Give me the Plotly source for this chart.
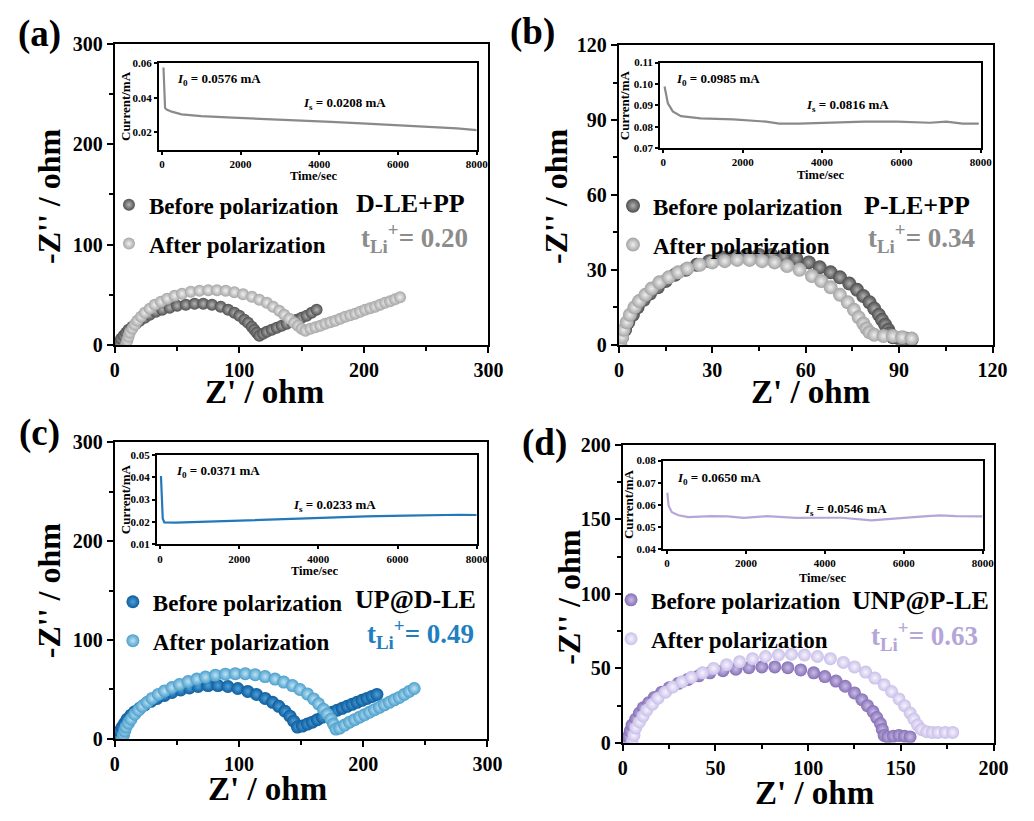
import plotly.graph_objects as go

W, H = 1034, 821
FONT = "Liberation Serif"

# ---------------- Nyquist data (Z' , -Z'') ----------------
# (a) D-LE+PP
a_before_x = [3, 4, 5, 7, 9, 11, 14, 17, 20, 24, 28, 33, 38, 44, 50, 57, 64, 71, 78, 85, 91, 96, 100, 104, 107, 110, 112, 114, 116,
              119, 122, 126, 130, 134, 138, 142, 146, 150, 154, 158, 162]
a_before_y = [0, 3, 6, 9, 12, 15, 18, 21, 24, 27, 30, 33, 35, 37, 39, 40, 41, 41, 40, 38, 35, 32, 29, 25, 22, 18, 15, 12, 9,
              11, 13, 15, 17, 19, 21, 23, 25, 27, 29, 32, 35]
a_after_x = [9, 10, 11, 12, 14, 16, 18, 21, 24, 28, 32, 37, 42, 48, 54, 61, 68, 75, 82, 89, 96, 103, 110, 116, 122, 127, 132, 136,
             140, 144, 147, 150, 153, 157, 161, 165, 169, 173, 177, 181, 185, 189, 193, 197, 201, 205, 209, 213, 217, 221, 225, 229]
a_after_y = [0, 4, 8, 12, 16, 20, 24, 28, 32, 36, 40, 43, 46, 49, 51, 53, 54, 54.5, 54.5, 54, 52.5, 50.5, 48, 45, 42, 38, 34, 30,
             26, 22, 19, 16, 14, 16, 17.5, 19, 21, 22.5, 24, 26, 28, 29.5, 31, 33, 35, 36.5, 38, 40, 42, 43.5, 45.5, 47.5]

# (b) P-LE+PP
b_before_x = [0.3, 1, 2, 3, 4.5, 6, 8, 10, 12.5, 15, 18, 21.5, 25, 29, 33, 37, 41, 45, 49, 53, 57, 61, 64.5, 68, 71, 74, 76.5,
              78.5, 80.5, 82, 83.5, 84.5, 85.5, 86.5, 87, 88, 90, 92, 94]
b_before_y = [0, 3, 6, 9, 12, 15, 18, 20.5, 23, 25.5, 28, 30, 32, 33.5, 35, 35.5, 36, 36, 36, 35.5, 34.5, 33, 31, 29, 27, 24.5, 22,
              19.5, 17, 14.5, 12, 10, 8, 6, 4.5, 3, 2.5, 2.5, 2]
b_after_x = [0.5, 1, 1.5, 2.5, 3.5, 5, 6.5, 8.5, 10.5, 13, 16, 19, 22, 26, 30, 34, 38, 42, 46, 50, 54, 58, 62, 65, 68, 71, 73.5,
             75.5, 77, 78.5, 79.5, 80.5, 82, 85, 88, 91, 94]
b_after_y = [0, 3, 6, 9, 12, 15, 17.5, 20, 22.5, 25, 27, 29, 30.5, 32, 33, 33.5, 34, 34, 33.5, 33, 31.5, 30, 27.5, 25.5, 23, 20, 17,
             14, 11, 8.5, 6.5, 5, 4, 3.5, 3.5, 3, 2.5]

# (c) UP@D-LE
c_before_x = [2, 3, 4, 6, 8, 10, 13, 16, 20, 24, 29, 34, 40, 46, 53, 60, 67, 75, 83, 91, 99, 107, 114, 121, 127, 132, 137, 141,
              144, 147, 151, 155, 159, 163, 167, 171, 175, 179, 183, 187, 191, 195, 199, 203, 207, 211]
c_before_y = [0, 4, 8, 12, 16, 20, 24, 27.5, 31, 34.5, 38, 41, 44, 47, 49.5, 51.5, 53, 54, 54, 53, 51, 48, 45, 41, 37, 33, 28, 23,
              18, 12, 13, 15, 17, 19.5, 22, 24.5, 27, 29, 31, 33, 35, 37, 39, 41, 43, 45]
c_after_x = [6, 7, 8, 9, 11, 13, 16, 19, 22, 26, 30, 35, 40, 46, 52, 59, 66, 73, 81, 89, 97, 105, 113, 121, 129, 136, 143, 149,
             155, 160, 164, 168, 171, 174, 176, 178, 181, 185, 189, 193, 197, 201, 205, 209, 213, 217, 221, 225, 229, 233, 237, 241]
c_after_y = [0, 4, 8, 12, 16, 20, 25, 29, 33, 37, 41, 45, 48.5, 52, 55, 58, 60.5, 62.5, 64.5, 65.5, 66, 66, 65, 63, 60.5, 57.5, 54,
             50, 45.5, 40.5, 35.5, 30, 25, 20, 15, 10, 11, 14, 17, 19.5, 22, 24.5, 27, 29.5, 32, 34.5, 37, 39.5, 42, 45, 48, 51]

# (d) UNP@P-LE
d_before_x = [2, 3, 4, 5, 7, 9, 11, 14, 17, 21, 25, 30, 35, 41, 47, 54, 61, 68, 75, 82, 89, 96, 103, 109, 115, 120, 125, 129, 132,
              135, 137, 139, 140, 141, 143, 146, 149, 152, 155]
d_before_y = [0, 4, 8, 12, 16, 20, 23.5, 27, 30.5, 34, 37, 40, 42.5, 45, 47, 48.5, 49.5, 50.5, 51, 51, 50.5, 49, 47, 44.5, 41.5, 38,
              33.5, 29, 25, 21, 17, 13, 9, 5, 4, 4.5, 5, 4.5, 4]
d_after_x = [5, 6, 7, 9, 11, 13, 16, 19, 23, 27, 32, 37, 43, 49, 56, 63, 70, 77, 84, 91, 98, 105, 112, 119, 125, 131, 136, 141, 145,
             149, 152, 155, 157, 159, 161, 164, 167, 170, 174, 178]
d_after_y = [0, 5, 10, 14, 18, 22, 26, 30, 34, 37.5, 41, 44, 47, 50, 52.5, 54.5, 56.5, 58, 59, 59.5, 59, 58, 56.5, 54, 51, 47.5, 43.5,
             39, 34.5, 29.5, 25, 20, 16, 12, 9, 7.5, 7, 7, 7, 7]

# ---------------- Chronoamperometry insets (time / s, current / mA) ----------------
ia_t = [40, 50, 60, 80, 120, 250, 500, 1000, 1800, 2600, 3500, 4300, 5200, 6000, 6800, 7500, 8000]
ia_i = [0.0576, 0.050, 0.040, 0.0340, 0.0330, 0.0318, 0.0302, 0.0292, 0.0283, 0.0276, 0.0267, 0.0258, 0.0248, 0.0239, 0.0229,
        0.0220, 0.0210]
ib_t = [33, 116, 240, 446, 941, 1766, 2593, 2923, 3420, 4243, 5070, 5895, 6720, 7130, 7540, 7950]
ib_i = [0.0988, 0.0910, 0.0872, 0.0850, 0.0839, 0.0835, 0.0824, 0.0815, 0.0815, 0.0819, 0.0824, 0.0824, 0.0819, 0.0824, 0.0815,
        0.0815]
ic_t = [25, 40, 70, 110, 400, 1000, 1800, 2600, 3500, 4300, 5200, 6200, 7000, 7600, 8000]
ic_i = [0.0405, 0.030, 0.0215, 0.0198, 0.0197, 0.0200, 0.0205, 0.0212, 0.0217, 0.0221, 0.0225, 0.0228, 0.0232, 0.0232, 0.0231]
id_t = [10, 41, 124, 290, 538, 870, 1118, 1532, 1946, 2526, 3271, 4017, 4431, 5176, 5921, 6501, 6915, 7329, 7992]
id_i = [0.0655, 0.0596, 0.0567, 0.0553, 0.0545, 0.0548, 0.0549, 0.0548, 0.0541, 0.0549, 0.0541, 0.0542, 0.0542, 0.0530, 0.0542,
        0.0548, 0.0553, 0.0549, 0.0548]

panel_labels = ["(a)", "(b)", "(c)", "(d)"]
sample_names = ["D-LE+PP", "P-LE+PP", "UP@D-LE", "UNP@P-LE"]
t_values = ["0.20", "0.34", "0.49", "0.63"]
i0_values = ["0.0576", "0.0985", "0.0371", "0.0650"]
is_values = ["0.0208", "0.0816", "0.0233", "0.0546"]
legend_names = ["Before polarization", "After polarization"]


def px(x):
    return x / W


def py(y):
    return 1 - y / H


fig = go.Figure()

panels = [
    dict(bx=a_before_x, by=a_before_y, ax=a_after_x, ay=a_after_y, it=ia_t, ii=ia_i,
         c_b=("#505050", "#b4b4b4"), c_a=("#a6a6a6", "#f0f0f0"), tcol="#8c8c8c", lcol="#8a8a8a", ms=12,
         xd=(112, 493), yd=(34, 343), xr=(0, 300), yr=(0, 300), dt=100, mdt=50,
         ixd=(157, 481), iyd=(53, 143), ixr=(-75, 8000), iyr=(0.0093, 0.0605), iyt=[0.02, 0.04, 0.06],
         leg=(106, 177), name=(414, 198), tpos=(418, 233), i0=(173, 70), is_=(302, 95),
         xt=(265, 392), yt=(45, 191), cur=(123, 98), tim=(315, 170), lab=(35, 24)),
    dict(bx=b_before_x, by=b_before_y, ax=b_after_x, ay=b_after_y, it=ib_t, ii=ib_i,
         c_b=("#4e4e4e", "#b0b0b0"), c_a=("#a3a3a3", "#eeeeee"), tcol="#8c8c8c", lcol="#8a8a8a", ms=14,
         xd=(626, 1007), yd=(35, 343), xr=(0, 120), yr=(0, 120), dt=30, mdt=15,
         ixd=(668, 995), iyd=(53, 141), ixr=(-80, 8000), iyr=(0.07, 0.11), iyt=[0.07, 0.08, 0.09, 0.10, 0.11],
         leg=(620, 178), name=(930, 200), tpos=(935, 233), i0=(682, 70), is_=(815, 97),
         xt=(821, 392), yt=(562, 191), cur=(632, 97), tim=(832, 169), lab=(538, 22)),
    dict(bx=c_before_x, by=c_before_y, ax=c_after_x, ay=c_after_y, it=ic_t, ii=ic_i,
         c_b=("#0d5c9c", "#4fa0da"), c_a=("#4a9fcd", "#bfe2f3"), tcol="#1f7fc0", lcol="#2278b8", ms=13,
         xd=(112, 492), yd=(443, 748), xr=(0, 300), yr=(0, 300), dt=100, mdt=50,
         ixd=(155, 481), iyd=(456, 548), ixr=(-75, 8000), iyr=(0.01, 0.05), iyt=[0.01, 0.02, 0.03, 0.04, 0.05],
         leg=(110, 585), name=(419, 605), tpos=(424, 640), i0=(172, 473), is_=(292, 508),
         xt=(268, 799), yt=(45, 596), cur=(123, 502), tim=(316, 575), lab=(35, 434)),
    dict(bx=d_before_x, by=d_before_y, ax=d_after_x, ay=d_after_y, it=id_t, ii=id_i,
         c_b=("#8670b6", "#c9bce6"), c_a=("#c9bfe9", "#f6f3fd"), tcol="#b4a6d9", lcol="#b4a6d9", ms=13,
         xd=(630, 1008), yd=(446, 752), xr=(0, 200), yr=(0, 200), dt=50, mdt=25,
         ixd=(671, 997), iyd=(462, 553), ixr=(-100, 8000), iyr=(0.04, 0.08), iyt=[0.04, 0.05, 0.06, 0.07, 0.08],
         leg=(618, 583), name=(934, 606), tpos=(938, 642), i0=(683, 480), is_=(813, 512),
         xt=(825, 804), yt=(575, 602), cur=(636, 507), tim=(834, 583), lab=(550, 444)),
]

layout = dict(width=W, height=H, margin=dict(l=0, r=0, t=0, b=0), paper_bgcolor="white", plot_bgcolor="white",
              showlegend=True)
annotations = []


def bold_font(size, color="black"):
    return dict(family=FONT, size=size, color=color, weight="bold")


for k, p in enumerate(panels):
    mi = k + 1
    ii = k + 5
    mx = "x" if mi == 1 else f"x{mi}"
    my = "y" if mi == 1 else f"y{mi}"
    ix, iy = f"x{ii}", f"y{ii}"
    legkey = "legend" if mi == 1 else f"legend{mi}"

    for series, (xs, ys, cols) in enumerate([(p["bx"], p["by"], p["c_b"]), (p["ax"], p["ay"], p["c_a"])]):
        fig.add_trace(go.Scatter(
            x=xs, y=ys, mode="markers", xaxis=mx, yaxis=my, name=legend_names[series],
            legend=legkey, legendgroup=f"g{k}{series}",
            marker=dict(size=p["ms"], color=cols[0], gradient=dict(type="radial", color=cols[1]),
                        line=dict(width=0))))

    fig.add_trace(go.Scatter(x=p["it"], y=p["ii"], mode="lines", xaxis=ix, yaxis=iy, showlegend=False,
                             line=dict(color=p["lcol"], width=2.2)))

    main_common = dict(showline=True, linewidth=2.2, linecolor="black", mirror=True, ticks="outside", ticklen=6,
                       tickwidth=2, tickcolor="black", showgrid=False, zeroline=False,
                       tickfont=bold_font(20))
    layout["xaxis" if mi == 1 else f"xaxis{mi}"] = dict(
        domain=[px(p["xd"][0]), px(p["xd"][1])], range=list(p["xr"]), dtick=p["dt"], tick0=0, anchor=my,
        minor=dict(ticks="outside", ticklen=4, tickwidth=2, tickcolor="black", dtick=p["mdt"]), **main_common)
    layout["yaxis" if mi == 1 else f"yaxis{mi}"] = dict(
        domain=[py(p["yd"][1]), py(p["yd"][0])], range=list(p["yr"]), dtick=p["dt"], tick0=0, anchor=mx,
        minor=dict(ticks="outside", ticklen=4, tickwidth=2, tickcolor="black", dtick=p["mdt"]), **main_common)

    inset_common = dict(showline=True, linewidth=2, linecolor="black", mirror=True, ticks="outside", ticklen=3,
                        tickwidth=1.5, tickcolor="black", showgrid=False, zeroline=False,
                        tickfont=bold_font(11))
    layout[f"xaxis{ii}"] = dict(domain=[px(p["ixd"][0]), px(p["ixd"][1])], range=list(p["ixr"]),
                                tickvals=[0, 2000, 4000, 6000, 8000], ticktext=["0", "2000", "4000", "6000", "8000"],
                                anchor=iy, **inset_common)
    layout[f"yaxis{ii}"] = dict(domain=[py(p["iyd"][1]), py(p["iyd"][0])], range=list(p["iyr"]),
                                tickvals=p["iyt"], ticktext=[f"{v:.2f}" for v in p["iyt"]], anchor=ix,
                                **inset_common)

    layout[legkey] = dict(x=px(p["leg"][0]), y=py(p["leg"][1]), xanchor="left", yanchor="top",
                          bgcolor="rgba(0,0,0,0)", font=bold_font(23), itemsizing="trace",
                          traceorder="grouped", tracegroupgap=6)

    annotations += [
        dict(text=panel_labels[k], x=px(p["lab"][0]), y=py(p["lab"][1]), font=bold_font(37)),
        dict(text=sample_names[k], x=px(p["name"][0]), y=py(p["name"][1]), font=bold_font(26)),
        dict(text=f"t<sub>Li</sub><sup>+</sup>= {t_values[k]}", x=px(p["tpos"][0]), y=py(p["tpos"][1]),
             font=bold_font(27, p["tcol"])),
        dict(text=f"<i>I</i><sub>0</sub> = {i0_values[k]} mA", x=px(p["i0"][0]), y=py(p["i0"][1]),
             xanchor="left", font=bold_font(13)),
        dict(text=f"<i>I</i><sub>s</sub> = {is_values[k]} mA", x=px(p["is_"][0]), y=py(p["is_"][1]),
             xanchor="left", font=bold_font(13)),
        dict(text="Z' / ohm", x=px(p["xt"][0]), y=py(p["xt"][1]), font=bold_font(33)),
        dict(text="-Z'' / ohm", x=px(p["yt"][0]), y=py(p["yt"][1]), textangle=-90, font=bold_font(32)),
        dict(text="Current/mA", x=px(p["cur"][0]), y=py(p["cur"][1]), textangle=-90, font=bold_font(13)),
        dict(text="Time/sec", x=px(p["tim"][0]), y=py(p["tim"][1]), font=bold_font(12.5)),
    ]

for a in annotations:
    a.update(xref="paper", yref="paper", showarrow=False)
    a.setdefault("xanchor", "center")
    a.setdefault("yanchor", "middle")

layout["annotations"] = annotations
fig.update_layout(**layout)
fig.write_html("out.html")
